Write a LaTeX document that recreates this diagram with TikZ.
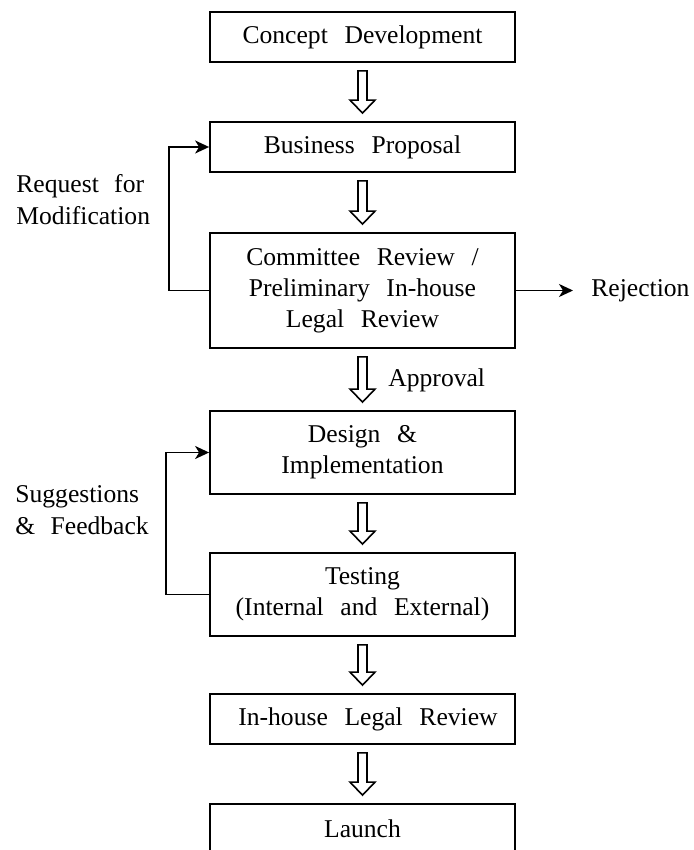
\documentclass[tikz,border=0pt]{standalone}
\usepackage{fontspec}
\setmainfont{Liberation Serif}
\usetikzlibrary{arrows.meta,calc}

\begin{document}
\begin{tikzpicture}[x=0.5pt,y=-0.5pt,
  txt/.style={font={\fontsize{12.8}{15.5}\selectfont\spaceskip=0.65em\relax}, inner sep=0pt},
  side/.style={font={\fontsize{12.8}{16}\selectfont\spaceskip=0.6em\relax}, inner sep=0pt, align=left, anchor=west},
  stage/.style={txt, draw, line width=0.9pt, minimum width=152.5pt, align=center},
  flow/.style={draw, line width=0.8pt, fill=white, line join=miter,
    to path={let \p1=(\tikztostart), \p2=(\tikztotarget) in
      (\x1-2.25pt,\y1-4pt) -- (\x1-2.25pt,\y2+10.5pt) -- (\x1-6.25pt,\y2+10.5pt)
      -- (\x1,\y2+4pt) -- (\x1+6.25pt,\y2+10.5pt) -- (\x1+2.25pt,\y2+10.5pt)
      -- (\x1+2.25pt,\y1-4pt) -- cycle}},
  back/.style={draw, line width=0.9pt, -{Stealth[length=7pt,width=6.5pt,inset=2pt]}}
]
\useasboundingbox (0,0) rectangle (693,850);

% process stages
\node[stage, minimum height=25pt]   (b1) at (362.5,37)    {Concept Development};
\node[stage, minimum height=25pt]   (b2) at (362.5,147)   {Business Proposal};
\node[stage, minimum height=57.5pt] (b3) at (362.5,290.5) {Committee Review /\\Preliminary In-house\\Legal Review};
\node[stage, minimum height=41.5pt] (b4) at (362.5,452.5) {Design \&\\Implementation};
\node[stage, minimum height=41.5pt] (b5) at (362.5,594.5) {Testing\\(Internal and External)};
\node[stage, minimum height=25pt]   (b6) at (362.5,719)   {\hspace*{5.5pt}In-house Legal Review};
\node[stage, minimum height=25pt]   (b7) at (362.5,829)   {Launch};

% side labels
\node[side] (req) at (16,200) {Request for\\Modification};
\node[side] (sug) at (15,510) {Suggestions\\\& Feedback};
\node[txt, anchor=west] (appr) at (388,380) {Approval};
\node[txt, anchor=west] (rej) at (591,290.5) {Rejection};

% main flow
\draw[flow] (b1.south) to (b2.north);
\draw[flow] (b2.south) to (b3.north);
\draw[flow] (b3.south) to (b4.north);
\draw[flow] (b4.south) to (b5.north);
\draw[flow] (b5.south) to (b6.north);
\draw[flow] (b6.south) to (b7.north);

% feedback loops and rejection
\draw[back] (b3.west) -- ++(-40,0) |- (b2.west);
\draw[back] (b5.west) -- ++(-43,0) |- (b4.west);
\draw[back, shorten >=9pt] (b3.east) -- (rej.west);
\end{tikzpicture}
\end{document}
